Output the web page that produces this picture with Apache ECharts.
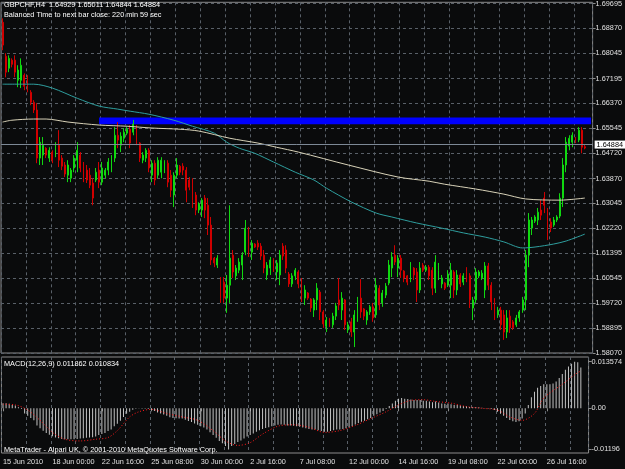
<!DOCTYPE html>
<html>
<head>
<meta charset="utf-8">
<title>GBPCHF,H4</title>
<script src="https://cdn.jsdelivr.net/npm/echarts@6.0.0/dist/echarts.min.js"></script>
<style>
  html, body { margin: 0; height: 100%; background: #0a0b0c; }
  #chart { width: 625px; height: 469px; }
</style>
</head>
<body>
<div id="chart"></div>
<script>
// H4 bars, each one [open, close, low, high]
var ohlc = [
  [1.6907,1.6831,1.6814,1.6920],[1.6794,1.6741,1.6724,1.6804],[1.6754,1.6787,1.6741,1.6797],[1.6781,1.6767,1.6757,1.6787],
  [1.6781,1.6741,1.6724,1.6797],[1.6714,1.6748,1.6691,1.6764],[1.6714,1.6764,1.6688,1.6787],[1.6731,1.6694,1.6681,1.6737],
  [1.6714,1.6688,1.6674,1.6731],[1.6674,1.6641,1.6631,1.6681],[1.6641,1.6615,1.6605,1.6648],[1.6615,1.6455,1.6438,1.6638],
  [1.6455,1.6508,1.6432,1.6525],[1.6465,1.6498,1.6432,1.6525],[1.6488,1.6465,1.6455,1.6491],[1.6455,1.6481,1.6442,1.6491],
  [1.6475,1.6448,1.6438,1.6481],[1.6465,1.6495,1.6458,1.6508],[1.6498,1.6448,1.6425,1.6548],[1.6455,1.6428,1.6415,1.6465],
  [1.6432,1.6402,1.6392,1.6442],[1.6398,1.6432,1.6375,1.6448],[1.6388,1.6415,1.6375,1.6422],[1.6422,1.6455,1.6408,1.6465],
  [1.6448,1.6481,1.6408,1.6508],[1.6465,1.6422,1.6408,1.6475],[1.6428,1.6388,1.6375,1.6442],[1.6415,1.6382,1.6372,1.6432],
  [1.6398,1.6365,1.6355,1.6422],[1.6372,1.6322,1.6298,1.6388],[1.6382,1.6408,1.6375,1.6422],[1.6415,1.6375,1.6355,1.6442],
  [1.6375,1.6422,1.6365,1.6442],[1.6398,1.6415,1.6388,1.6422],[1.6415,1.6442,1.6398,1.6455],[1.6442,1.6455,1.6408,1.6465],
  [1.6455,1.6531,1.6442,1.6558],[1.6531,1.6515,1.6488,1.6575],[1.6498,1.6528,1.6475,1.6541],[1.6521,1.6541,1.6508,1.6555],
  [1.6538,1.6551,1.6531,1.6558],[1.6551,1.6505,1.6488,1.6565],[1.6541,1.6568,1.6531,1.6582],[1.6558,1.6515,1.6498,1.6565],
  [1.6505,1.6455,1.6442,1.6508],[1.6448,1.6465,1.6438,1.6475],[1.6455,1.6481,1.6442,1.6488],[1.6481,1.6422,1.6408,1.6488],
  [1.6398,1.6438,1.6375,1.6448],[1.6438,1.6382,1.6365,1.6448],[1.6398,1.6448,1.6388,1.6458],[1.6408,1.6448,1.6388,1.6458],
  [1.6422,1.6442,1.6405,1.6448],[1.6438,1.6375,1.6358,1.6448],[1.6398,1.6348,1.6325,1.6415],[1.6332,1.6398,1.6292,1.6408],
  [1.6398,1.6432,1.6388,1.6455],[1.6428,1.6408,1.6398,1.6432],[1.6428,1.6415,1.6398,1.6438],[1.6415,1.6348,1.6308,1.6425],
  [1.6382,1.6358,1.6348,1.6392],[1.6365,1.6315,1.6289,1.6388],[1.6332,1.6282,1.6265,1.6342],[1.6282,1.6302,1.6272,1.6308],
  [1.6282,1.6315,1.6259,1.6322],[1.6322,1.6282,1.6255,1.6332],[1.6298,1.6232,1.6199,1.6322],[1.6232,1.6116,1.6099,1.6259],
  [1.6122,1.6106,1.6092,1.6126],[1.6099,1.6122,1.6089,1.6132],[1.6049,1.5989,1.5973,1.6059],[1.6042,1.5989,1.5973,1.6059],
  [1.5989,1.6032,1.5940,1.6066],[1.6032,1.6122,1.5973,1.6298],[1.6132,1.6076,1.6056,1.6149],[1.6063,1.6089,1.6049,1.6099],
  [1.6082,1.6109,1.6072,1.6122],[1.6099,1.6132,1.6049,1.6142],[1.6142,1.6222,1.6132,1.6249],[1.6209,1.6149,1.6126,1.6226],
  [1.6142,1.6172,1.6116,1.6182],[1.6169,1.6159,1.6156,1.6172],[1.6172,1.6159,1.6149,1.6182],[1.6162,1.6129,1.6116,1.6172],
  [1.6132,1.6089,1.6072,1.6149],[1.6066,1.6099,1.6049,1.6109],[1.6089,1.6116,1.6066,1.6126],[1.6116,1.6089,1.6076,1.6122],
  [1.6076,1.6106,1.6049,1.6116],[1.6066,1.6132,1.6032,1.6149],[1.6162,1.6129,1.6116,1.6172],[1.6149,1.6089,1.6072,1.6165],
  [1.6069,1.6036,1.6026,1.6076],[1.6036,1.6063,1.6026,1.6072],[1.6063,1.6082,1.6049,1.6089],[1.6076,1.6036,1.6022,1.6082],
  [1.6036,1.5996,1.5976,1.6056],[1.5989,1.6016,1.5966,1.6032],[1.6006,1.5989,1.5983,1.6009],[1.5986,1.5956,1.5943,1.5989],
  [1.5949,1.5983,1.5926,1.5989],[1.5983,1.6022,1.5949,1.6039],[1.6009,1.5943,1.5916,1.6016],[1.5943,1.5903,1.5890,1.5949],
  [1.5896,1.5916,1.5876,1.5926],[1.5920,1.5900,1.5893,1.5923],[1.5900,1.5929,1.5890,1.5940],[1.5929,1.5963,1.5916,1.5973],
  [1.5983,1.5966,1.5949,1.6056],[1.5949,1.5989,1.5916,1.6009],[1.5983,1.5900,1.5883,1.5986],[1.5883,1.5900,1.5873,1.5910],
  [1.5910,1.5876,1.5860,1.5923],[1.5876,1.5933,1.5826,1.5949],[1.5933,1.5983,1.5910,1.5993],[1.5989,1.5943,1.5923,1.6052],
  [1.5953,1.5929,1.5916,1.5956],[1.5916,1.5943,1.5900,1.5949],[1.5943,1.5960,1.5933,1.5966],[1.5960,1.5923,1.5910,1.5973],
  [1.5933,1.6032,1.5923,1.6056],[1.6022,1.5966,1.5949,1.6032],[1.5973,1.6006,1.5960,1.6016],[1.5999,1.6029,1.5989,1.6039],
  [1.6039,1.6099,1.6032,1.6116],[1.6089,1.6126,1.6059,1.6142],[1.6132,1.6109,1.6099,1.6165],[1.6089,1.6122,1.6059,1.6132],
  [1.6122,1.6082,1.6056,1.6132],[1.6079,1.6056,1.6042,1.6082],[1.6063,1.6042,1.6032,1.6066],[1.6049,1.6099,1.6042,1.6109],
  [1.6089,1.6066,1.6049,1.6092],[1.6076,1.6016,1.5976,1.6089],[1.6016,1.6089,1.6006,1.6109],[1.6099,1.6082,1.6076,1.6106],
  [1.6082,1.6092,1.6076,1.6099],[1.6092,1.6063,1.6049,1.6099],[1.6082,1.6022,1.5999,1.6092],[1.6022,1.6109,1.6006,1.6132],
  [1.6082,1.6096,1.6049,1.6106],[1.6036,1.6056,1.6022,1.6066],[1.6039,1.6022,1.6016,1.6042],[1.6032,1.6069,1.6026,1.6082],
  [1.6032,1.6082,1.5989,1.6106],[1.6076,1.6016,1.5989,1.6082],[1.6016,1.6066,1.5999,1.6082],[1.6066,1.6036,1.6026,1.6072],
  [1.6042,1.6063,1.6032,1.6072],[1.6076,1.6056,1.6042,1.6092],[1.6063,1.5983,1.5956,1.6072],[1.5956,1.5983,1.5916,1.5993],
  [1.5983,1.6076,1.5973,1.6089],[1.6063,1.6076,1.6056,1.6082],[1.6056,1.6072,1.6049,1.6082],[1.6016,1.6096,1.5989,1.6109],
  [1.6096,1.6032,1.6016,1.6106],[1.6032,1.5976,1.5949,1.6042],[1.5976,1.5933,1.5916,1.5989],[1.5933,1.5949,1.5923,1.5960],
  [1.5949,1.5900,1.5883,1.5960],[1.5933,1.5876,1.5850,1.5949],[1.5876,1.5923,1.5856,1.5949],[1.5929,1.5890,1.5873,1.5949],
  [1.5910,1.5890,1.5883,1.5916],[1.5900,1.5923,1.5893,1.5933],[1.5923,1.5943,1.5910,1.5949],[1.5949,1.5983,1.5940,1.5993],
  [1.5983,1.6132,1.5949,1.6149],[1.6132,1.6249,1.6092,1.6272],[1.6222,1.6249,1.6199,1.6259],[1.6245,1.6259,1.6239,1.6265],
  [1.6249,1.6275,1.6232,1.6289],[1.6282,1.6265,1.6249,1.6315],[1.6322,1.6298,1.6272,1.6342],[1.6275,1.6209,1.6182,1.6289],
  [1.6242,1.6222,1.6209,1.6255],[1.6232,1.6249,1.6226,1.6259],[1.6249,1.6259,1.6242,1.6265],[1.6262,1.6322,1.6255,1.6338],
  [1.6322,1.6432,1.6292,1.6455],[1.6432,1.6508,1.6408,1.6525],[1.6495,1.6521,1.6481,1.6531],[1.6508,1.6531,1.6491,1.6541],
  [1.6521,1.6511,1.6505,1.6525],[1.6515,1.6548,1.6508,1.6558],[1.6548,1.6491,1.6471,1.6558],[1.64929,1.64884,1.64844,1.65011]
];

// moving averages, [bar index, price]
var maFast = [
  [0,1.6701],[10,1.6701],[16,1.6688],[24,1.6654],[31,1.6628],[37,1.6618],[41,1.6611],[47,1.6601],
  [55,1.6581],[61,1.6561],[68,1.6538],[72,1.6508],[76,1.6488],[81,1.6471],[87,1.6442],[94,1.6408],
  [100,1.6382],[104,1.6355],[112,1.6309],[120,1.6272],[125,1.6259],[133,1.6239],[141,1.6222],[148,1.6206],
  [155,1.6192],[161,1.6176],[167,1.6156],[171,1.6159],[177,1.6169],[181,1.6179],[187,1.6202]
];
var maSlow = [
  [0,1.6575],[3,1.6581],[10,1.6585],[14,1.6585],[21,1.6575],[31,1.6565],[40,1.6561],[48,1.6555],
  [57,1.6551],[63,1.6545],[73,1.6521],[82,1.6505],[88,1.6491],[95,1.6475],[111,1.6432],[127,1.6392],
  [137,1.6378],[142,1.6368],[152,1.6352],[161,1.6335],[168,1.6319],[179,1.6315],[187,1.6322]
];

// MACD(12,26,9)
var macdMain = [
  0.0015,0.0015,0.0013,0.0010,0.0008,0.0003,-0.0002,-0.0015,-0.0022,-0.0028,
  -0.0035,-0.0050,-0.0058,-0.0065,-0.0072,-0.0077,-0.0081,-0.0085,-0.0087,-0.0089,
  -0.0090,-0.0090,-0.0090,-0.0090,-0.0089,-0.0088,-0.0087,-0.0086,-0.0085,-0.0084,
  -0.0082,-0.0078,-0.0075,-0.0072,-0.0066,-0.0062,-0.0052,-0.0045,-0.0036,-0.0025,
  -0.0016,-0.0010,-0.0004,-0.0001,0.0001,-0.0001,-0.0001,-0.0002,-0.0005,-0.0008,
  -0.0012,-0.0015,-0.0018,-0.0022,-0.0026,-0.0028,-0.0029,-0.0030,-0.0030,-0.0033,
  -0.0037,-0.0040,-0.0044,-0.0048,-0.0052,-0.0056,-0.0062,-0.0070,-0.0078,-0.0086,
  -0.0095,-0.0102,-0.0110,-0.01196,-0.0110,-0.0104,-0.0098,-0.0094,-0.0088,-0.0082,
  -0.0078,-0.0073,-0.0068,-0.0064,-0.0060,-0.0057,-0.0055,-0.0052,-0.0050,-0.0048,
  -0.0047,-0.0048,-0.0050,-0.0050,-0.0051,-0.0052,-0.0054,-0.0056,-0.0058,-0.0060,
  -0.0062,-0.0062,-0.0064,-0.0066,-0.0068,-0.0068,-0.0066,-0.0064,-0.0062,-0.0062,
  -0.0060,-0.0058,-0.0056,-0.0052,-0.0047,-0.0043,-0.0039,-0.0036,-0.0032,-0.0028,
  -0.0022,-0.0017,-0.0012,-0.0008,-0.0002,0.0007,0.0014,0.0022,0.0028,0.0030,
  0.0028,0.0027,0.0026,0.0024,0.0024,0.0024,0.0022,0.0022,0.0020,0.0018,
  0.0020,0.0017,0.0014,0.0013,0.0014,0.0012,0.0010,0.0010,0.0008,0.0007,
  0.0006,0.0004,0.0004,0.0004,0.0003,0.0002,0.0001,-0.0001,-0.0002,-0.0005,
  -0.0010,-0.0016,-0.0022,-0.0028,-0.0034,-0.0038,-0.0040,-0.0038,-0.0030,-0.0015,
  0.0010,0.0032,0.0048,0.0060,0.0065,0.0070,0.0070,0.0070,0.0072,0.0078,
  0.0088,0.0100,0.0112,0.0122,0.0130,0.013574,0.0134,0.011862
];
var macdSignal = [
  [0,0.0012],[4,0.0010],[8,-0.0005],[12,-0.0035],[16,-0.0070],[20,-0.0090],[25,-0.0095],[30,-0.0090],
  [34,-0.0085],[37,-0.0065],[41,-0.0025],[44,-0.0010],[48,-0.0003],[53,-0.0015],[58,-0.0025],[63,-0.0035],
  [68,-0.0065],[72,-0.0095],[76,-0.0108],[80,-0.0100],[84,-0.0075],[89,-0.0052],[94,-0.0048],[99,-0.0055],
  [104,-0.0070],[109,-0.0065],[114,-0.0050],[119,-0.0030],[124,-0.0010],[128,0.0010],[132,0.0023],[136,0.0025],
  [140,0.0020],[145,0.0015],[150,0.0005],[155,0.0000],[160,-0.0005],[164,-0.0025],[168,-0.0035],[172,-0.0015],
  [175,0.0030],[181,0.0070],[186,0.0104],[187,0.010834]
];

var priceTicks = [1.69695, 1.68870, 1.68045, 1.67195, 1.66370, 1.65545, 1.64720, 1.63870,
                  1.63045, 1.62220, 1.61395, 1.60545, 1.59720, 1.58895, 1.58070];
var macdTicks = [-0.01196, 0, 0.013574];
var macdTickLabels = ['-0.01196', '0.00', '0.013574'];
var dateLabels = ['15 Jun 2010', '18 Jun 00:00', '22 Jun 16:00', '25 Jun 08:00', '30 Jun 00:00', '2 Jul 16:00',
                  '7 Jul 08:00', '12 Jul 00:00', '14 Jul 16:00', '19 Jul 08:00', '22 Jul 00:00', '26 Jul 16:00'];
var bidPrice = 1.64884;
var zone = { start: 31, low: 1.6568, high: 1.6590 };

// bar times: H4, no weekend bars, two empty slots of chart shift on the right
var months = ['Jan','Feb','Mar','Apr','May','Jun','Jul','Aug','Sep','Oct','Nov','Dec'];
var times = [];
var t = Date.UTC(2010, 5, 15, 8);
while (times.length < 190) {
  var d = new Date(t);
  var wd = d.getUTCDay();
  if (wd !== 0 && wd !== 6) {
    var h = d.getUTCHours();
    times.push(d.getUTCDate() + ' ' + months[d.getUTCMonth()] + ' ' + (h < 10 ? '0' + h : h) + ':00');
  }
  t += 4 * 3600 * 1000;
}

var FONT = 'Liberation Sans';
var gridLine = { color: '#596068', width: 1, type: [3, 3] };
var every8 = function (i) { return i % 8 === 0; };
var every16 = function (i) { return i % 16 === 0; };

var chart = echarts.init(document.getElementById('chart'));
chart.setOption({
  backgroundColor: '#0a0b0c',
  animation: false,
  textStyle: { fontFamily: FONT },
  title: [
    { text: 'GBPCHF,H4  1.64929 1.65011 1.64844 1.64884', left: 4, top: 1, padding: 0,
      textStyle: { color: '#ffffff', fontSize: 7.3, fontWeight: 'normal', fontFamily: FONT } },
    { text: 'Balanced Time to next bar close: 220 min 59 sec', left: 4, top: 11, padding: 0,
      textStyle: { color: '#ffffff', fontSize: 7.3, fontWeight: 'normal', fontFamily: FONT } },
    { text: 'MACD(12,26,9) 0.011862 0.010834', left: 4, top: 360, padding: 0,
      textStyle: { color: '#ffffff', fontSize: 7.3, fontWeight: 'normal', fontFamily: FONT } },
    { text: 'MetaTrader - Alpari UK, \u00a9 2001-2010 MetaQuotes Software Corp.', left: 4, top: 446, padding: 0,
      textStyle: { color: '#ffffff', fontSize: 7.3, fontWeight: 'normal', fontFamily: FONT } }
  ],
  grid: [
    { left: 1, right: 31, top: 2, height: 351, show: true, borderColor: '#8c8c8c', borderWidth: 1 },
    { left: 1, right: 31, top: 357, height: 96, show: true, borderColor: '#8c8c8c', borderWidth: 1 }
  ],
  xAxis: [
    { type: 'category', gridIndex: 0, data: times, boundaryGap: true,
      axisLine: { show: false }, axisTick: { show: false }, axisLabel: { show: false },
      splitLine: { show: true, interval: every8, lineStyle: gridLine } },
    { type: 'category', gridIndex: 1, data: times, boundaryGap: true,
      axisLine: { show: false },
      axisTick: { show: true, interval: every16, alignWithLabel: true, length: 3, lineStyle: { color: '#8c8c8c' } },
      axisLabel: { interval: every16, align: 'left', margin: 5, color: '#e0e0e0', fontSize: 7.3, fontFamily: FONT,
        formatter: function (v, i) { return dateLabels[Math.round(i / 16)]; } },
      splitLine: { show: true, interval: every8, lineStyle: gridLine } }
  ],
  yAxis: [
    { type: 'value', gridIndex: 0, position: 'right', min: 1.58063, max: 1.69735, scale: true,
      axisLine: { show: false },
      axisTick: { show: true, customValues: priceTicks, length: 3, lineStyle: { color: '#8c8c8c' } },
      axisLabel: { customValues: priceTicks, margin: 3, color: '#e0e0e0', fontSize: 7.3, fontFamily: FONT,
        formatter: function (v) { return v.toFixed(5); } },
      splitLine: { show: true, lineStyle: gridLine } },
    { type: 'value', gridIndex: 1, position: 'right', min: -0.01301, max: 0.01494,
      axisLine: { show: false },
      axisTick: { show: true, customValues: macdTicks, length: 3, lineStyle: { color: '#8c8c8c' } },
      axisLabel: { customValues: macdTicks, margin: 3, color: '#e0e0e0', fontSize: 7.3, fontFamily: FONT,
        formatter: function (v) {
          var best = 0;
          for (var k = 1; k < macdTicks.length; k++) {
            if (Math.abs(macdTicks[k] - v) < Math.abs(macdTicks[best] - v)) best = k;
          }
          return macdTickLabels[best];
        } },
      splitLine: { show: false } }
  ],
  series: [
    {
      name: 'GBPCHF', type: 'candlestick', xAxisIndex: 0, yAxisIndex: 0, data: ohlc, barWidth: 1.4,
      itemStyle: { color: '#009c00', color0: '#a00000', borderColor: '#10d810', borderColor0: '#d00000', borderWidth: 1 },
      markArea: {
        silent: true,
        itemStyle: { color: '#0000ff', opacity: 1 },
        data: [[{ xAxis: zone.start, yAxis: zone.high }, { xAxis: times.length - 1, yAxis: zone.low }]]
      },
      markLine: {
        silent: true, symbol: 'none',
        lineStyle: { color: '#7d8996', width: 1, type: 'solid' },
        label: { position: 'end', distance: 2, formatter: bidPrice.toFixed(5), color: '#000000',
          backgroundColor: '#ffffff', fontSize: 7.3, fontFamily: FONT, padding: [1, 2, 0, 2] },
        data: [{ yAxis: bidPrice }]
      }
    },
    {
      name: 'MA fast', type: 'line', xAxisIndex: 0, yAxisIndex: 0, data: maFast, smooth: 0.3,
      showSymbol: false, lineStyle: { color: '#2e9e9e', width: 1 }
    },
    {
      name: 'MA slow', type: 'line', xAxisIndex: 0, yAxisIndex: 0, data: maSlow, smooth: 0.3,
      showSymbol: false, lineStyle: { color: '#d8d2b8', width: 1 }
    },
    {
      name: 'MACD', type: 'bar', xAxisIndex: 1, yAxisIndex: 1, data: macdMain, barWidth: 1,
      itemStyle: { color: '#c4c4c4' }
    },
    {
      name: 'Signal', type: 'line', xAxisIndex: 1, yAxisIndex: 1, data: macdSignal, smooth: 0.3,
      showSymbol: false, lineStyle: { color: '#ff1a1a', width: 1, type: [1, 2] }
    }
  ]
});
</script>
</body>
</html>
